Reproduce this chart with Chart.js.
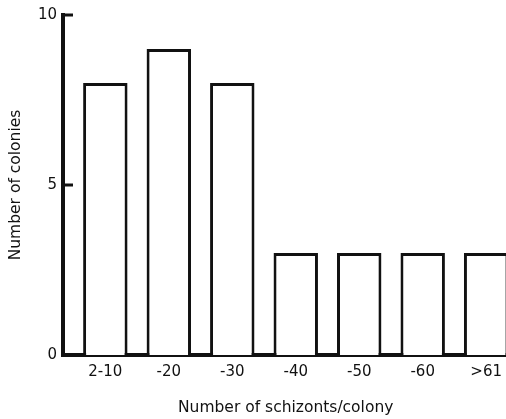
<!DOCTYPE html>
<html>
<head>
<meta charset="utf-8">
<script src="https://cdn.jsdelivr.net/npm/chart.js@4.4.0/dist/chart.umd.min.js"></script>
<style>
  html, body { margin: 0; padding: 0; background: #fff; overflow: hidden; }
  /* etwas breiter als das Fenster: der letzte Balken wird rechts abgeschnitten */
  #wrap { width: 510px; height: 419px; }
</style>
</head>
<body>
<div id="wrap"><canvas id="chart"></canvas></div>
<script>
// ---------------- Daten ----------------
const groups = ["2-10", "-20", "-30", "-40", "-50", "-60", ">61"];
const colonies = [8, 9, 8, 3, 3, 3, 3];
const yTicks = [0, 5, 10];

const ink = "#111";
const family = "'DejaVu Sans', 'Liberation Sans', sans-serif";

// kleine Striche nach innen an der y-Achse (5 und 10)
const innerTicks = {
  id: "innerTicks",
  afterDraw(chart) {
    const { ctx, scales: { y }, chartArea } = chart;
    ctx.save();
    ctx.strokeStyle = ink;
    ctx.lineWidth = 3;
    yTicks.filter(v => v > 0).forEach(v => {
      const py = y.getPixelForValue(v);
      ctx.beginPath();
      ctx.moveTo(chartArea.left, py);
      ctx.lineTo(chartArea.left + 10, py);
      ctx.stroke();
    });
    ctx.restore();
  }
};

new Chart(document.getElementById("chart"), {
  type: "bar",
  data: {
    datasets: [{
      data: colonies.map((v, i) => ({ x: i + 1, y: v })),
      backgroundColor: "#fff",
      borderColor: ink,
      borderWidth: 3,
      borderSkipped: "bottom",
      barPercentage: 0.7,
      categoryPercentage: 1
    }]
  },
  plugins: [innerTicks],
  options: {
    responsive: true,
    maintainAspectRatio: false,
    animation: false,
    layout: { padding: { top: 15, left: 7, right: 0, bottom: 0 } },
    plugins: { legend: { display: false }, tooltip: { enabled: false } },
    scales: {
      x: {
        type: "linear",
        offset: false,
        min: 0.333,
        max: 7.35,
        afterBuildTicks: axis => { axis.ticks = groups.map((_, i) => ({ value: i + 1 })); },
        afterFit: axis => { axis.height = 64; },
        grid: { display: false, drawTicks: false },
        border: { display: true, color: ink, width: 4 },
        ticks: {
          color: ink, font: { family, size: 15 }, padding: 8, maxRotation: 0, autoSkip: false,
          callback: v => groups[v - 1]
        },
        title: {
          display: true, text: "Number of schizonts/colony",
          color: ink, font: { family, size: 15.5 }, padding: { top: 0, bottom: 2 }
        }
      },
      y: {
        min: 0,
        max: 10,
        afterBuildTicks: axis => { axis.ticks = yTicks.map(v => ({ value: v })); },
        afterFit: axis => { axis.width = 56; },
        grid: { display: false, drawTicks: false },
        border: { display: true, color: ink, width: 4 },
        ticks: { color: ink, font: { family, size: 15 }, padding: 6 },
        title: {
          display: true, text: "Number of colonies",
          color: ink, font: { family, size: 15.5 }, padding: { top: 0, bottom: 0 }
        }
      }
    }
  }
});
</script>
</body>
</html>
